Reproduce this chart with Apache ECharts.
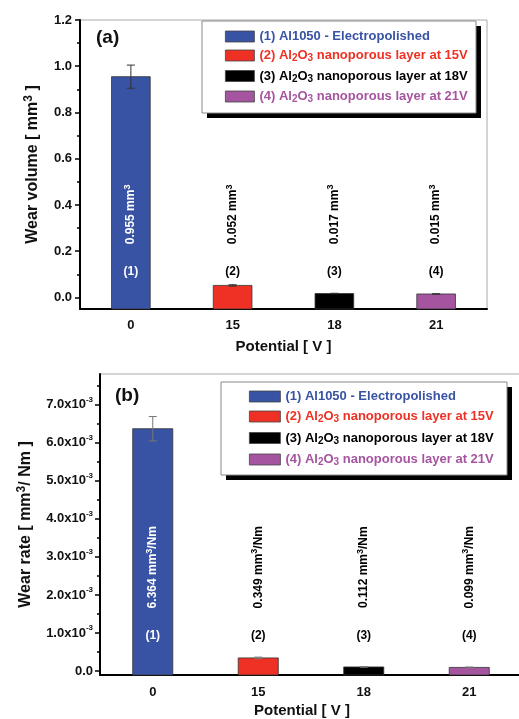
<!DOCTYPE html>
<html>
<head>
<meta charset="utf-8">
<script src="https://cdn.jsdelivr.net/npm/echarts@6/dist/echarts.min.js"></script>
<style>
html,body{margin:0;padding:0;background:#fff;}
#chart{width:519px;height:719px;}
</style>
</head>
<body>
<div id="chart"></div>
<script>
const categories = ['0', '15', '18', '21'];
const seriesNames = [
  '(1) Al1050 - Electropolished',
  '(2) Al2O3 nanoporous layer at 15V',
  '(3) Al2O3 nanoporous layer at 18V',
  '(4) Al2O3 nanoporous layer at 21V'
];
const colors = ['#3953a4', '#ee3124', '#000000', '#a5559f'];
const wearVolume = [0.955, 0.052, 0.017, 0.015];
const wearVolumeErr = [0.05, 0.003, 0.001, 0.001];
const wearRate = [0.006364, 0.000349, 0.000112, 0.000099];
const wearRateErr = [0.00032, 0.00002, 0.00001, 0.00001];
const volumeLabels = ['0.955', '0.052', '0.017', '0.015'];
const rateLabels = ['6.364', '0.349', '0.112', '0.099'];
const idLabels = ['(1)', '(2)', '(3)', '(4)'];
const volumeTicks = [0, 0.2, 0.4, 0.6, 0.8, 1.0, 1.2];
const volumeMinorTicks = [0.1, 0.3, 0.5, 0.7, 0.9, 1.1];
const rateTicks = [0, 0.001, 0.002, 0.003, 0.004, 0.005, 0.006, 0.007];
const rateMinorTicks = [0.0005, 0.0015, 0.0025, 0.0035, 0.0045, 0.0055, 0.0065, 0.0075];

const FONT = "'Liberation Sans', Arial, sans-serif";
const volMin = -0.05, volMax = 1.2;
const rateMin = -0.0001, rateMax = 0.0078;

const chart = echarts.init(document.getElementById('chart'), null, {renderer: 'canvas'});

function legendText(name, idx) {
  return '{t' + idx + '|' + name.replace('Al2O3', 'Al}{s' + idx + '|2}{t' + idx + '|O}{s' + idx + '|3}{t' + idx + '|') + '}';
}
const legendRich = {};
colors.forEach((c, i) => {
  legendRich['t' + i] = {color: c, fontSize: 13, fontWeight: 'bold', fontFamily: FONT, lineHeight: 16};
  legendRich['s' + i] = {color: c, fontSize: 10, fontWeight: 'bold', fontFamily: FONT, lineHeight: 8, verticalAlign: 'bottom'};
});

function makeSeries(gridIdx, values, errs, labels, unitTail, axisMin, valueOffset, idOffset, errColor) {
  return values.map((v, i) => ({
    type: 'custom',
    name: seriesNames[i],
    xAxisIndex: gridIdx,
    yAxisIndex: gridIdx * 2,
    itemStyle: {color: colors[i], borderColor: '#333', borderWidth: 0.8},
    data: [[i, v, errs[i]]],
    encode: {x: 0, y: 1},
    renderItem: function (params, api) {
      const ci = api.value(0), val = api.value(1), e = api.value(2);
      const base = api.coord([ci, axisMin]);
      const top = api.coord([ci, val]);
      const zero = api.coord([ci, 0]);
      const bw = api.size([1, 0])[0] * 0.38;
      const hi = api.coord([ci, val + e])[1];
      const lo = api.coord([ci, val - e])[1];
      const x = base[0];
      const txtColor = i === 0 ? '#ffffff' : '#000000';
      return {
        type: 'group',
        children: [
          {type: 'rect', shape: {x: x - bw / 2, y: top[1], width: bw, height: base[1] - top[1]},
           style: {fill: colors[i], stroke: '#333', lineWidth: 0.8}},
          {type: 'line', shape: {x1: x, y1: hi, x2: x, y2: lo}, style: {stroke: errColor, lineWidth: 1}},
          {type: 'line', shape: {x1: x - 4, y1: hi, x2: x + 4, y2: hi}, style: {stroke: errColor, lineWidth: 1}},
          {type: 'line', shape: {x1: x - 4, y1: lo, x2: x + 4, y2: lo}, style: {stroke: errColor, lineWidth: 1}},
          {type: 'text', x: x, y: zero[1] - valueOffset, rotation: Math.PI / 2,
           style: {text: labels[i] + ' mm{sup|3}' + unitTail, fill: txtColor, fontSize: 12, fontWeight: 'bold',
                   fontFamily: FONT, align: 'center', verticalAlign: 'middle', lineHeight: 16,
                   rich: {sup: {fill: txtColor, fontSize: 9, fontWeight: 'bold', fontFamily: FONT, lineHeight: 8, verticalAlign: 'top'}}}},
          {type: 'text', x: x, y: zero[1] - idOffset,
           style: {text: idLabels[i], fill: txtColor, fontSize: 12, fontWeight: 'bold', fontFamily: FONT,
                   align: 'center', verticalAlign: 'middle'}}
        ]
      };
    }
  }));
}

const axisLabelStyle = {fontSize: 13, fontWeight: 'bold', fontFamily: FONT, color: '#111'};
const nameStyle = {fontSize: 15, fontWeight: 'bold', fontFamily: FONT, color: '#111'};
const yNameStyle = {fontSize: 16, fontWeight: 'bold', fontFamily: FONT, color: '#111'};

function xAxisCfg(gridIdx, padRight, gap, margin) {
  return {
    type: 'category', gridIndex: gridIdx, data: categories,
    boundaryGap: true,
    name: 'Potential [ V ]', nameLocation: 'middle', nameGap: gap,
    nameTextStyle: Object.assign({padding: [0, padRight, 0, 0]}, nameStyle),
    axisLine: {onZero: false, lineStyle: {color: '#000', width: 2}},
    axisTick: {inside: true, alignWithLabel: true, length: 7, lineStyle: {color: '#000', width: 2}},
    axisLabel: Object.assign({margin: margin}, axisLabelStyle),
    splitLine: {show: false}
  };
}

function legendCfg(left, top, padding, gap, itemWidth) {
  return {
    data: seriesNames, orient: 'vertical', left: left, top: top,
    padding: padding, itemGap: gap, itemWidth: itemWidth, itemHeight: 11, icon: 'rect',
    itemStyle: {borderColor: '#444', borderWidth: 0.8},
    formatter: name => legendText(name, seriesNames.indexOf(name)),
    textStyle: {rich: legendRich}, selectedMode: false, z: 10
  };
}

function legendBox(x, y, w, h) {
  return [
    {type: 'rect', z: 1, shape: {x: x + 5, y: y + 5, width: w, height: h}, style: {fill: '#000'}},
    {type: 'rect', z: 2, shape: {x: x, y: y, width: w, height: h}, style: {fill: '#fff', stroke: '#888', lineWidth: 1}}
  ];
}

const option = {
  backgroundColor: '#fff',
  animation: false,
  grid: [
    {left: 80, top: 20, width: 407, height: 289, show: true, borderColor: '#aaa', borderWidth: 1, outerBoundsMode: 'none', containLabel: false},
    {left: 100, top: 374, right: -3, height: 301, show: true, borderColor: '#aaa', borderWidth: 1, outerBoundsMode: 'none', containLabel: false}
  ],
  xAxis: [xAxisCfg(0, 0, 30, 10), xAxisCfg(1, 18, 28, 11)],
  yAxis: [
    {
      type: 'value', gridIndex: 0, min: volMin, max: volMax,
      name: 'Wear volume [ mm{sup|3} ]', nameLocation: 'middle', nameGap: 31,
      nameTextStyle: Object.assign({lineHeight: 20, rich: {sup: {fontSize: 12, fontWeight: 'bold', fontFamily: FONT, color: '#111', lineHeight: 10, verticalAlign: 'top'}}}, yNameStyle),
      axisLine: {show: true, lineStyle: {color: '#000', width: 2}},
      axisTick: {show: true, length: 5, customValues: volumeTicks, lineStyle: {color: '#000', width: 1.5}},
      axisLabel: Object.assign({margin: 8, customValues: volumeTicks, formatter: v => v.toFixed(1)}, axisLabelStyle),
      splitLine: {show: false}
    },
    {
      type: 'value', gridIndex: 0, min: volMin, max: volMax, position: 'left',
      axisLine: {show: false}, axisLabel: {show: false}, splitLine: {show: false},
      axisTick: {show: true, length: 3, customValues: volumeMinorTicks, lineStyle: {color: '#000', width: 1.5}}
    },
    {
      type: 'value', gridIndex: 1, min: rateMin, max: rateMax,
      name: 'Wear rate [ mm{sup|3}/ Nm ]', nameLocation: 'middle', nameGap: 64,
      nameTextStyle: Object.assign({lineHeight: 20, rich: {sup: {fontSize: 12, fontWeight: 'bold', fontFamily: FONT, color: '#111', lineHeight: 10, verticalAlign: 'top'}}}, yNameStyle),
      axisLine: {show: true, lineStyle: {color: '#000', width: 2}},
      axisTick: {show: true, length: 5, customValues: rateTicks, lineStyle: {color: '#000', width: 1.5}},
      axisLabel: Object.assign({
        margin: 7, customValues: rateTicks, lineHeight: 18,
        formatter: v => v === 0 ? '0.0' : (v * 1000).toFixed(1) + 'x10{sup|-3}',
        rich: {sup: {fontSize: 8, fontWeight: 'bold', fontFamily: FONT, color: '#111', lineHeight: 8, verticalAlign: 'top'}}
      }, axisLabelStyle),
      splitLine: {show: false}
    },
    {
      type: 'value', gridIndex: 1, min: rateMin, max: rateMax, position: 'left',
      axisLine: {show: false}, axisLabel: {show: false}, splitLine: {show: false},
      axisTick: {show: true, length: 3, customValues: rateMinorTicks, lineStyle: {color: '#000', width: 1.5}}
    }
  ],
  legend: [
    legendCfg(202, 21, [9, 12, 8, 23], 6, 29),
    legendCfg(221, 382, [8, 11, 8, 28], 7, 31)
  ],
  graphic: [].concat(
    legendBox(202, 21, 274, 92),
    legendBox(221, 382, 286, 93),
    [
      {type: 'text', left: 96, top: 28, style: {text: '(a)', fontSize: 19, fontWeight: 'bold', fontFamily: FONT, fill: '#111'}},
      {type: 'text', left: 115, top: 386, style: {text: '(b)', fontSize: 19, fontWeight: 'bold', fontFamily: FONT, fill: '#111'}}
    ]
  ),
  series: [].concat(
    makeSeries(0, wearVolume, wearVolumeErr, volumeLabels, '', volMin, 83, 26, '#333'),
    makeSeries(1, wearRate, wearRateErr, rateLabels, '/Nm', rateMin, 104, 36, '#777')
  )
};
chart.setOption(option);
</script>
</body>
</html>
